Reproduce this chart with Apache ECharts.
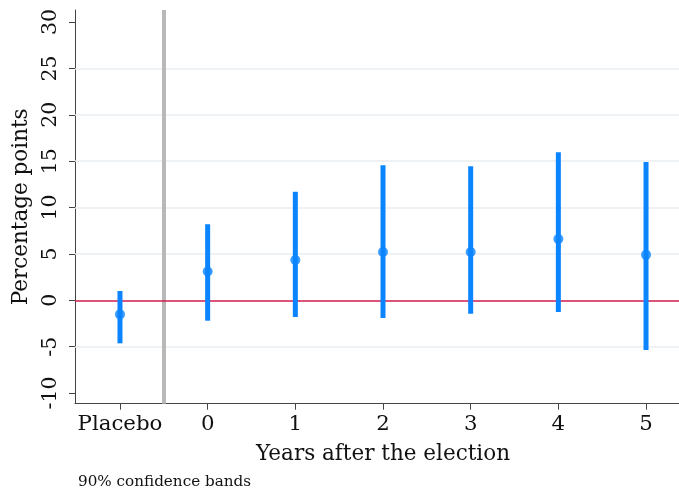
<!DOCTYPE html>
<html>
<head>
<meta charset="utf-8">
<style>
  html, body { margin: 0; padding: 0; background: #fff; }
  #chart { width: 679px; height: 496px; }
</style>
<script src="https://cdn.jsdelivr.net/npm/echarts@6/dist/echarts.min.js"></script>
</head>
<body>
<div id="chart"></div>
<script>
// ---- data ----
const categories = ['Placebo', '0', '1', '2', '3', '4', '5'];
const xPositions = [-1, 0, 1, 2, 3, 4, 5];
const estimates = [-1.52, 3.1, 4.35, 5.2, 5.2, 6.6, 4.9];
const lowerCI = [-4.64, -2.2, -1.8, -1.9, -1.45, -1.25, -5.35];
const upperCI = [1.0, 8.2, 11.7, 14.55, 14.45, 15.95, 14.9];
const yTicks = [-10, -5, 0, 5, 10, 15, 20, 25, 30];
const gridValues = [-5, 5, 10, 15, 20, 25];
const zeroLine = 0;
const separatorX = -0.5;

const FONT = 'DejaVu Serif';
const BLUE = '#0a84ff';

const ciData = xPositions.map((x, i) => [x, lowerCI[i], upperCI[i]]);
const pointData = xPositions.map((x, i) => [x, estimates[i]]);
const labelMap = {};
xPositions.forEach((x, i) => { labelMap[x] = categories[i]; });

const chart = echarts.init(document.getElementById('chart'), null, { renderer: 'canvas' });
chart.setOption({
  animation: false,
  backgroundColor: '#ffffff',
  grid: { left: 75, right: 0, top: 10, bottom: 92.3 },
  xAxis: {
    type: 'value',
    min: -1.513,
    max: 5.376,
    name: 'Years after the election',
    nameLocation: 'middle',
    nameGap: 40,
    nameTextStyle: { fontFamily: FONT, fontSize: 21.5, color: '#111', padding: [0, 0, 0, 12] },
    axisLine: { show: true, onZero: false, lineStyle: { color: '#444', width: 1 } },
    axisTick: { show: true, length: 6, customValues: xPositions, lineStyle: { color: '#444' } },
    axisLabel: {
      customValues: xPositions,
      margin: 10,
      fontFamily: FONT, fontSize: 21.3, color: '#111',
      formatter: v => labelMap[v] !== undefined ? labelMap[v] : ''
    },
    splitLine: { show: false }
  },
  yAxis: {
    type: 'value',
    min: -11.15,
    max: 31.3,
    name: 'Percentage points',
    nameLocation: 'middle',
    nameRotate: 90,
    nameGap: 37,
    nameTextStyle: { fontFamily: FONT, fontSize: 21.5, color: '#111' },
    axisLine: { show: true, onZero: false, lineStyle: { color: '#444', width: 1 } },
    axisTick: { show: true, length: 6, customValues: yTicks, lineStyle: { color: '#444' } },
    axisLabel: {
      customValues: yTicks,
      rotate: 90,
      margin: 14,
      fontFamily: FONT, fontSize: 20.5, color: '#111'
    },
    splitLine: { show: false }
  },
  graphic: [{
    type: 'text',
    left: 78,
    top: 475,
    style: { text: '90% confidence bands', fontFamily: FONT, fontSize: 15.2, fill: '#111' }
  }],
  series: [
    {
      type: 'scatter',
      data: [],
      z: 1,
      silent: true,
      markLine: {
        z: 1,
        symbol: 'none',
        silent: true,
        label: { show: false },
        lineStyle: { color: '#e8eef2', width: 1.5, type: 'solid' },
        data: gridValues.map(v => ({ yAxis: v }))
      }
    },
    {
      type: 'scatter',
      data: [],
      z: 2,
      silent: true,
      markLine: {
        z: 2,
        symbol: 'none',
        silent: true,
        label: { show: false },
        data: [
          { xAxis: separatorX, lineStyle: { color: '#b8b8b8', width: 4, type: 'solid' } },
          { yAxis: zeroLine, lineStyle: { color: '#d01c4b', width: 1.5, type: 'solid' } }
        ]
      }
    },
    {
      type: 'custom',
      z: 10,
      data: ciData,
      encode: { x: 0, y: [1, 2] },
      renderItem: function (params, api) {
        const x = api.value(0);
        const p1 = api.coord([x, api.value(1)]);
        const p2 = api.coord([x, api.value(2)]);
        return {
          type: 'line',
          shape: { x1: p1[0], y1: p1[1], x2: p2[0], y2: p2[1] },
          style: { stroke: BLUE, lineWidth: 5 }
        };
      }
    },
    {
      type: 'scatter',
      z: 11,
      data: pointData,
      symbol: 'circle',
      symbolSize: 10,
      itemStyle: { color: BLUE }
    }
  ]
});
</script>
</body>
</html>
